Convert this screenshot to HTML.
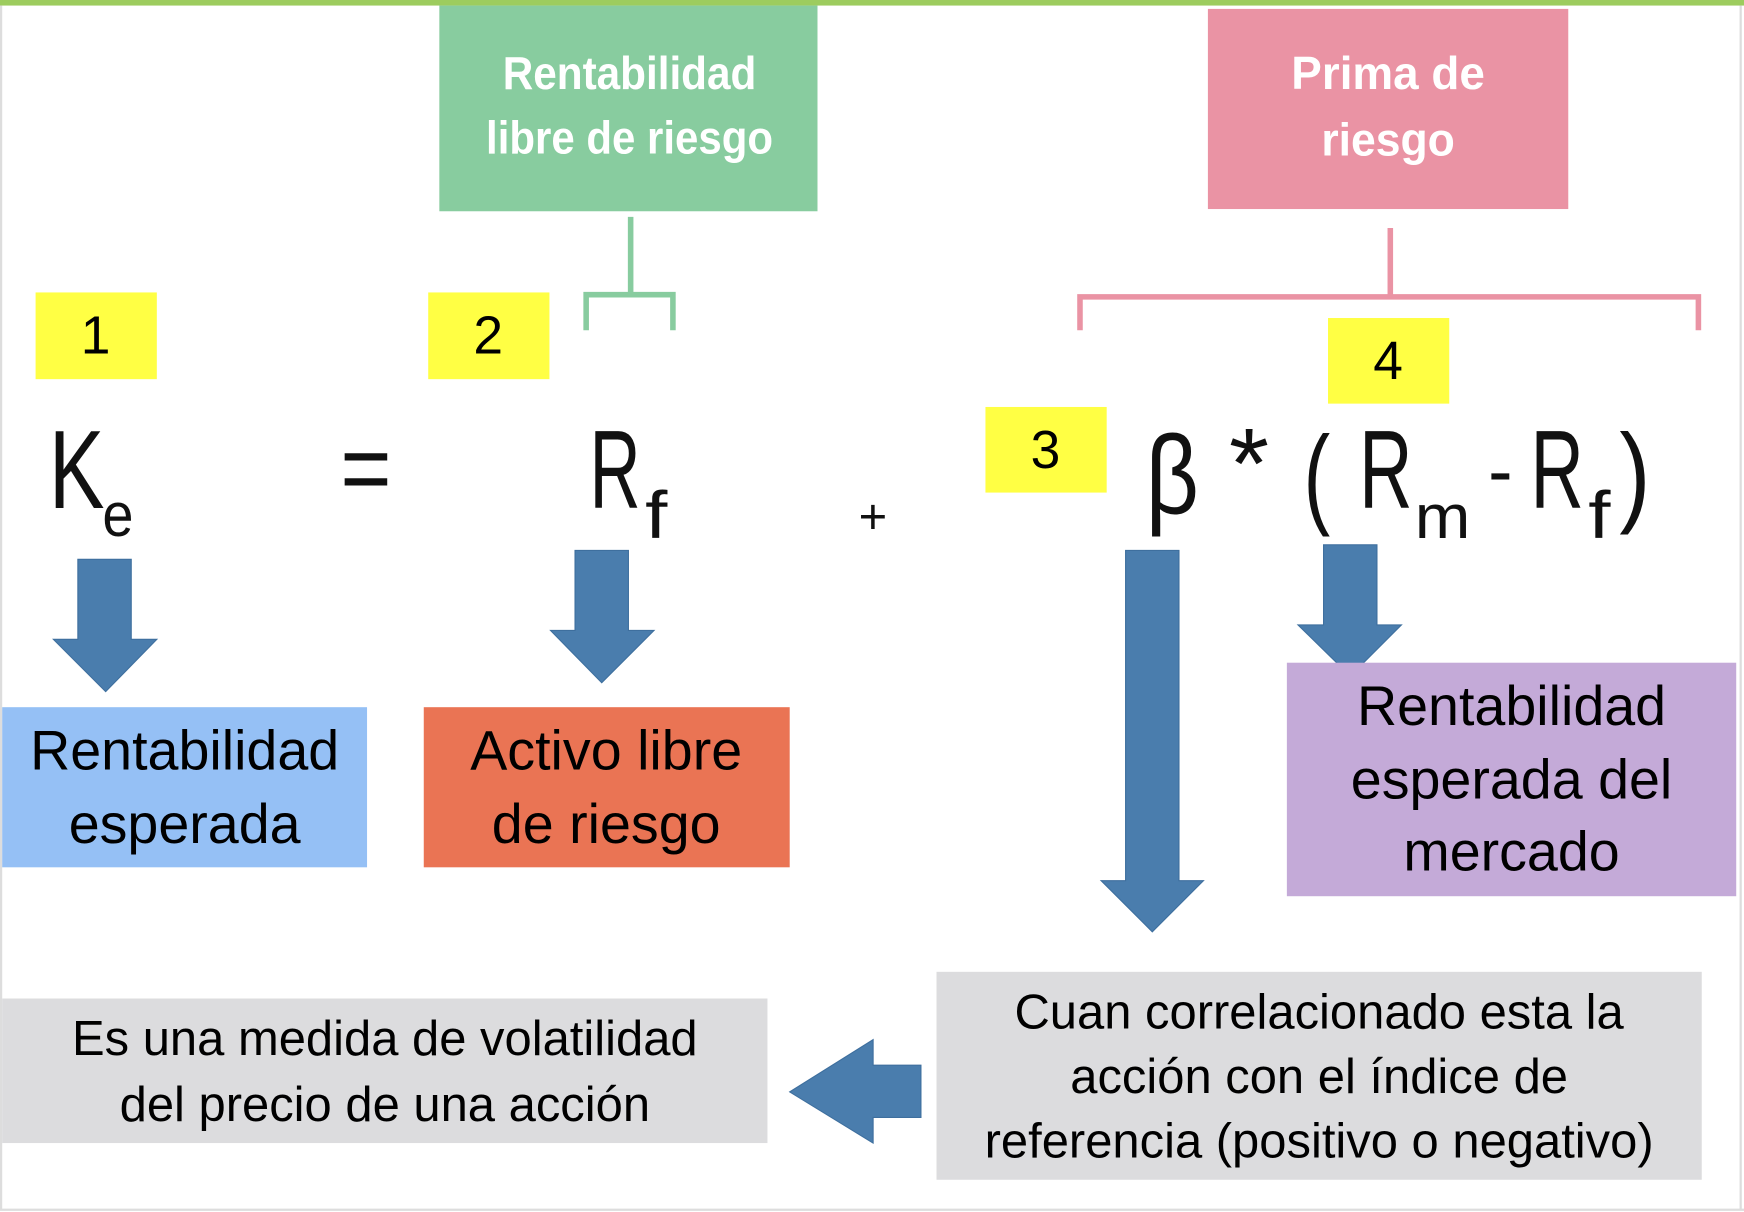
<!DOCTYPE html>
<html><head><meta charset="utf-8"><style>html,body{margin:0;padding:0;background:#fff}svg{display:block}</style></head>
<body>
<svg width="1744" height="1212" viewBox="0 0 1568 1090" preserveAspectRatio="none" xmlns="http://www.w3.org/2000/svg" font-family="Liberation Sans, sans-serif">
<rect x="0" y="0" width="1568" height="1090" fill="#fff"/>
<rect x="0" y="0" width="1568" height="5" fill="#9dcc5e"/>
<line x1="1565" y1="5" x2="1565" y2="1088" stroke="#ddd" stroke-width="2"/>
<line x1="0" y1="1088" x2="1568" y2="1088" stroke="#ddd" stroke-width="2"/>
<line x1="1" y1="5" x2="1" y2="1088" stroke="#ddd" stroke-width="2"/>

<!-- green box -->
<rect x="395" y="5" width="340" height="185" fill="#88cc9f"/>
<text x="566" y="80" fill="#fff" font-size="42" font-weight="bold" text-anchor="middle" textLength="228" lengthAdjust="spacingAndGlyphs">Rentabilidad</text>
<text x="566" y="138" fill="#fff" font-size="42" font-weight="bold" text-anchor="middle" textLength="258" lengthAdjust="spacingAndGlyphs">libre de riesgo</text>
<path d="M567 195 V265 M527 297 V265 H605 V297" fill="none" stroke="#88cc9f" stroke-width="5"/>

<!-- pink box -->
<rect x="1086" y="8" width="324" height="180" fill="#ea93a4"/>
<text x="1248" y="80" fill="#fff" font-size="42" font-weight="bold" text-anchor="middle" textLength="174" lengthAdjust="spacingAndGlyphs">Prima de</text>
<text x="1248" y="140" fill="#fff" font-size="42" font-weight="bold" text-anchor="middle" textLength="120" lengthAdjust="spacingAndGlyphs">riesgo</text>
<path d="M1250 205 V267 M971 297 V267 H1527 V297" fill="none" stroke="#ea93a4" stroke-width="5"/>

<!-- yellow -->
<rect x="32" y="263" width="109" height="78" fill="#ffff44"/>
<text x="86" y="318" font-size="48" text-anchor="middle">1</text>
<rect x="385" y="263" width="109" height="78" fill="#ffff44"/>
<text x="439" y="318" font-size="48" text-anchor="middle">2</text>
<rect x="1194" y="286" width="109" height="77" fill="#ffff44"/>
<text x="1248" y="341" font-size="48" text-anchor="middle">4</text>
<rect x="886" y="366" width="109" height="77" fill="#ffff44"/>
<text x="940" y="421" font-size="48" text-anchor="middle">3</text>

<!-- formula -->
<g fill="#111">
<text x="44" y="457" font-size="100" textLength="50" lengthAdjust="spacingAndGlyphs">K</text>
<text x="92" y="482" font-size="56" textLength="28" lengthAdjust="spacingAndGlyphs">e</text>
<text x="306" y="452" font-size="90" textLength="46" lengthAdjust="spacingAndGlyphs">=</text>
<text x="530" y="457" font-size="100" textLength="46" lengthAdjust="spacingAndGlyphs">R</text>
<text x="580" y="484" font-size="60" textLength="20" lengthAdjust="spacingAndGlyphs">f</text>
<text x="772" y="480" font-size="44">+</text>
<text x="1030" y="462" font-size="100" textLength="48" lengthAdjust="spacingAndGlyphs">β</text>
<text x="1105" y="448" font-size="90" textLength="36" lengthAdjust="spacingAndGlyphs">*</text>
<text x="1172" y="462" font-size="100" textLength="24" lengthAdjust="spacingAndGlyphs">(</text>
<text x="1222" y="457" font-size="100" textLength="48" lengthAdjust="spacingAndGlyphs">R</text>
<text x="1272" y="484" font-size="56" textLength="50" lengthAdjust="spacingAndGlyphs">m</text>
<text x="1338" y="447" font-size="70" textLength="22" lengthAdjust="spacingAndGlyphs">-</text>
<text x="1376" y="457" font-size="100" textLength="48" lengthAdjust="spacingAndGlyphs">R</text>
<text x="1428" y="484" font-size="60" textLength="20" lengthAdjust="spacingAndGlyphs">f</text>
<text x="1456" y="460" font-size="100" textLength="28" lengthAdjust="spacingAndGlyphs">)</text>
</g>

<!-- arrows -->
<g fill="#4a7dad" stroke="#3e6f9e" stroke-width="1">
<path d="M70 503 H118 V575 H141 L95 622 L48 575 H70 Z"/>
<path d="M517 495 H565 V567 H588 L541 614 L495 567 H517 Z"/>
<path d="M1012 495 H1060 V792 H1082 L1036 838 L990 792 H1012 Z"/>
<path d="M1190 490 H1238 V562 H1260 L1214 608 L1167 562 H1190 Z"/>
<path d="M828 958 V1005 H785 V1028 L710 982 L785 935 V958 Z"/>
</g>

<!-- boxes -->
<rect x="2" y="636" width="328" height="144" fill="#95c0f5"/>
<text x="166" y="692" font-size="50" text-anchor="middle">Rentabilidad</text>
<text x="166" y="758" font-size="50" text-anchor="middle">esperada</text>

<rect x="381" y="636" width="329" height="144" fill="#ea7454"/>
<text x="545" y="692" font-size="50" text-anchor="middle">Activo libre</text>
<text x="545" y="758" font-size="50" text-anchor="middle">de riesgo</text>

<rect x="1157" y="596" width="404" height="210" fill="#c4aad8"/>
<text x="1359" y="652" font-size="50" text-anchor="middle">Rentabilidad</text>
<text x="1359" y="718" font-size="50" text-anchor="middle">esperada del</text>
<text x="1359" y="783" font-size="50" text-anchor="middle">mercado</text>

<rect x="842" y="874" width="688" height="187" fill="#dcdcde"/>
<text x="1186" y="925" font-size="44" text-anchor="middle">Cuan correlacionado esta la</text>
<text x="1186" y="983" font-size="44" text-anchor="middle">acción con el índice de</text>
<text x="1186" y="1041" font-size="44" text-anchor="middle">referencia (positivo o negativo)</text>

<rect x="2" y="898" width="688" height="130" fill="#dcdcde"/>
<text x="346" y="949" font-size="44" text-anchor="middle">Es una medida de volatilidad</text>
<text x="346" y="1008" font-size="44" text-anchor="middle">del precio de una acción</text>
</svg>
</body></html>
